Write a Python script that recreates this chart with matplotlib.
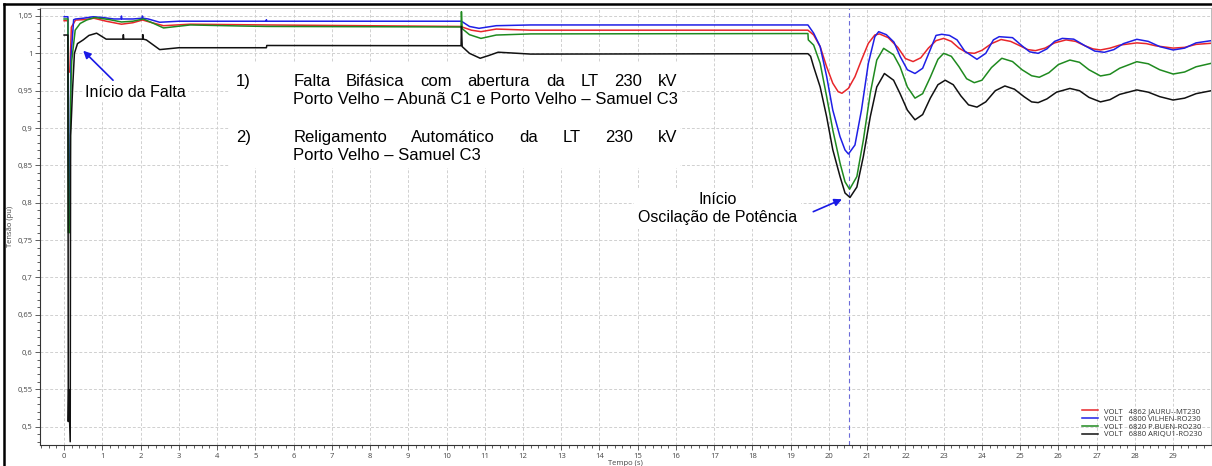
import matplotlib
matplotlib.use("Agg")
import matplotlib.pyplot as plt
from matplotlib.patches import Rectangle
from matplotlib.lines import Line2D
from matplotlib.ticker import MultipleLocator, FuncFormatter

# Tensão nas barras (pu) x tempo (s)
jauru_t = [0.0, 0.10, 0.11, 0.15, 0.19, 0.30, 0.50, 0.78, 1.10, 1.50, 1.80, 2.05, 2.30, 2.60, 3.30, 5.30, 10.38, 10.42, 10.65, 10.90, 11.30, 12.20, 19.45,
           19.60, 19.77, 19.94, 20.10, 20.24, 20.34, 20.51, 20.68, 20.85, 21.03, 21.20, 21.32,
           21.55, 21.80, 22.00, 22.20, 22.40, 22.60, 22.80, 23.00, 23.20, 23.40, 23.60, 23.80, 24.00, 24.25, 24.50, 24.75, 25.00, 25.20, 25.40, 25.65,
           25.90, 26.20, 26.45, 26.70, 26.90, 27.10, 27.35, 27.60, 28.05, 28.30, 28.55, 29.00, 29.30, 29.60, 30.00]
jauru_v = [1.0437, 1.0437, 0.975, 0.975, 1.035, 1.0446, 1.045, 1.047, 1.043, 1.039, 1.041, 1.0446, 1.041, 1.037, 1.039, 1.038, 1.036, 1.035, 1.031, 1.029, 1.0325, 1.031, 1.031,
           1.0246, 1.009, 0.982, 0.960, 0.9487, 0.9465, 0.9532, 0.9687, 0.991, 1.0134, 1.0246, 1.026,
           1.021, 1.008, 0.993, 0.989, 0.994, 1.007, 1.017, 1.020, 1.016, 1.007, 1.001, 1.000, 1.004, 1.013, 1.0185, 1.016, 1.010, 1.005, 1.0036, 1.007,
           1.014, 1.018, 1.016, 1.010, 1.006, 1.0045, 1.007, 1.011, 1.014, 1.013, 1.010, 1.007, 1.008, 1.012, 1.0135]

vilhena_t = [0.0, 0.10, 0.11, 0.14, 0.15, 0.18, 0.25, 0.30, 0.50, 0.76, 1.00, 1.30, 1.49, 1.50, 1.51, 1.80, 2.04, 2.05, 2.06, 2.20,
             2.50, 3.00, 5.28, 5.29, 5.30, 10.38, 10.42, 10.60, 10.85, 11.30, 12.20, 19.45,
             19.60, 19.77, 19.94, 20.10, 20.29, 20.42, 20.51, 20.68, 20.85, 21.03, 21.20, 21.30,
             21.50, 21.70, 21.86, 22.05, 22.25, 22.45, 22.65, 22.80, 22.95, 23.15, 23.35, 23.55, 23.87, 24.10, 24.30, 24.45, 24.80, 25.05, 25.25, 25.47,
             25.70, 25.90, 26.10, 26.40, 26.70, 26.95, 27.20, 27.45, 27.70, 28.05, 28.35, 28.65, 29.00, 29.30, 29.60, 30.00]
vilhena_v = [1.049, 1.049, 0.86, 0.77, 0.86, 0.995, 1.045, 1.046, 1.047, 1.049, 1.048, 1.046, 1.046, 1.050, 1.046, 1.046, 1.047, 1.050, 1.047, 1.046,
             1.0416, 1.043, 1.043, 1.045, 1.043, 1.043, 1.042, 1.036, 1.0335, 1.037, 1.038, 1.038,
             1.027, 1.009, 0.969, 0.924, 0.8884, 0.8706, 0.8652, 0.8773, 0.924, 0.9867, 1.0223, 1.029,
             1.025, 1.015, 0.996, 0.978, 0.973, 0.980, 1.005, 1.024, 1.0255, 1.024, 1.018, 1.003, 0.992, 1.000, 1.018, 1.0223, 1.021, 1.010, 1.002, 1.000,
             1.006, 1.016, 1.020, 1.019, 1.010, 1.003, 1.0014, 1.005, 1.013, 1.0188, 1.016, 1.009, 1.0045, 1.007, 1.014, 1.017]

pbuen_t = [0.0, 0.10, 0.11, 0.15, 0.17, 0.20, 0.29, 0.42, 0.59, 0.80, 1.20, 1.50, 1.80, 2.07, 2.30, 2.60, 3.30, 4.60, 5.30, 10.38,
           10.39, 10.41, 10.60, 10.90, 11.30, 12.20, 19.45, 19.46,
           19.60, 19.77, 19.94, 20.10, 20.29, 20.42, 20.54, 20.73, 20.90, 21.08, 21.25, 21.43,
           21.69, 21.86, 22.05, 22.25, 22.45, 22.65, 22.85, 23.00, 23.20, 23.40, 23.60, 23.80, 24.00, 24.25, 24.52, 24.80, 25.05, 25.30, 25.50, 25.75,
           26.00, 26.30, 26.55, 26.80, 27.10, 27.35, 27.60, 28.05, 28.35, 28.65, 29.00, 29.30, 29.60, 30.00]
pbuen_v = [1.046, 1.046, 0.76, 0.76, 0.94, 0.99, 1.031, 1.040, 1.0446, 1.048, 1.045, 1.042, 1.043, 1.046, 1.041, 1.034, 1.038, 1.0366, 1.036, 1.0353,
           1.0558, 1.033, 1.025, 1.020, 1.0245, 1.026, 1.0265, 1.018,
           1.011, 0.9867, 0.942, 0.8974, 0.853, 0.828, 0.818, 0.835, 0.884, 0.9465, 0.991, 1.0067,
           0.998, 0.982, 0.955, 0.940, 0.946, 0.968, 0.992, 1.000, 0.996, 0.982, 0.966, 0.9607, 0.964, 0.981, 0.9934, 0.989, 0.978, 0.970, 0.968, 0.974,
           0.985, 0.991, 0.988, 0.978, 0.9697, 0.972, 0.980, 0.9888, 0.986, 0.978, 0.9723, 0.975, 0.982, 0.9867]

ariqu_t = [0.0, 0.10, 0.11, 0.12, 0.16, 0.17, 0.18, 0.22, 0.27, 0.35, 0.50, 0.65, 0.85, 1.10, 1.54, 1.55, 1.56, 2.05, 2.06, 2.07,
           2.15, 2.50, 3.00, 5.29, 5.30, 10.38, 10.39, 10.41, 10.60, 10.88, 11.10, 11.35, 11.70, 12.20, 19.45, 19.52,
           19.60, 19.77, 19.94, 20.10, 20.29, 20.42, 20.55, 20.73, 20.90, 21.08, 21.25, 21.45, 21.69, 21.86,
           22.05, 22.25, 22.45, 22.65, 22.85, 23.04, 23.25, 23.45, 23.65, 23.87, 24.10, 24.35, 24.60, 24.85, 25.10, 25.30, 25.47, 25.70, 25.95, 26.30,
           26.55, 26.80, 27.10, 27.35, 27.60, 28.05, 28.35, 28.65, 29.00, 29.30, 29.60, 30.00]
ariqu_v = [1.0245, 1.0245, 0.507, 0.55, 0.48, 0.89, 0.90, 0.95, 1.0, 1.013, 1.018, 1.024, 1.027, 1.019, 1.019, 1.025, 1.019, 1.019, 1.025, 1.019,
           1.018, 1.005, 1.0075, 1.0075, 1.0105, 1.0102, 1.036, 1.009, 1.000, 0.9934, 0.997, 1.0015, 1.0005, 0.999, 0.9995, 0.996,
           0.982, 0.955, 0.915, 0.871, 0.835, 0.813, 0.807, 0.821, 0.862, 0.915, 0.955, 0.973, 0.964, 0.946,
           0.924, 0.911, 0.918, 0.940, 0.958, 0.964, 0.958, 0.943, 0.931, 0.928, 0.935, 0.950, 0.9563, 0.952, 0.942, 0.935, 0.934, 0.939, 0.948, 0.953,
           0.950, 0.941, 0.935, 0.938, 0.945, 0.951, 0.948, 0.942, 0.9375, 0.940, 0.946, 0.950]

series = [
    (jauru_t, jauru_v, "#e8262a", "4862 JAURU--MT230"),
    (vilhena_t, vilhena_v, "#1f1fe6", "6800 VILHEN-RO230"),
    (pbuen_t, pbuen_v, "#1f8a1f", "6820 P.BUEN-RO230"),
    (ariqu_t, ariqu_v, "#111111", "6880 ARIQU1-RO230"),
]
t_oscilacao = 20.53

fig = plt.figure(figsize=(12.12, 4.66), dpi=100)
ax = fig.add_axes([40 / 1212, 21 / 466, 1171 / 1212, 437 / 466])
ax.set_xlim(-0.63, 29.99)
ax.set_ylim(0.4756, 1.0607)

for t, v, cor, nome in series:
    ax.plot(t, v, color=cor, lw=1.1, zorder=3, label="VOLT   " + nome)

ax.axvline(t_oscilacao, color="#6b6bd8", lw=0.8, ls=(0, (4, 3)), zorder=2)

# eixos e grade
ax.xaxis.set_major_locator(MultipleLocator(1))
ax.xaxis.set_minor_locator(MultipleLocator(0.2))
ax.yaxis.set_major_locator(MultipleLocator(0.05))
ax.yaxis.set_minor_locator(MultipleLocator(0.01))
ax.xaxis.set_major_formatter(FuncFormatter(lambda x, _: f"{x:.0f}"))
ax.yaxis.set_major_formatter(
    FuncFormatter(lambda y, _: f"{y:.2f}".rstrip("0").rstrip(".").replace(".", ",")))
ax.grid(True, which="major", color="#d0d0d0", lw=0.7, ls=(0, (3, 2)))
ax.set_axisbelow(True)
ax.tick_params(which="both", direction="out", color="#444444", width=0.6,
               labelsize=5.5, labelcolor="#444444", pad=2)
ax.tick_params(which="major", length=3.5)
ax.tick_params(which="minor", length=2)
for lab in ax.get_xticklabels() + ax.get_yticklabels():
    lab.set_family("Open Sans")
for s in ["left", "bottom"]:
    ax.spines[s].set_color("#333333")
    ax.spines[s].set_linewidth(0.8)
for s in ["top", "right"]:
    ax.spines[s].set_color("#b0b0b0")
    ax.spines[s].set_linewidth(0.6)

ax.set_xlabel("Tempo (s)", fontsize=5.5, family="Open Sans", color="#444444", labelpad=0)
ax.set_ylabel("Tensão (pu)", fontsize=5.5, family="Open Sans", color="#444444", labelpad=2)

leg = ax.legend(loc="lower right", bbox_to_anchor=(0.997, 0.003), frameon=False,
                prop={"family": "Open Sans", "size": 5.5}, handlelength=2.1,
                handletextpad=0.8, labelspacing=0.05, borderpad=0.2)
for txt in leg.get_texts():
    txt.set_color("#333333")

# quadro de eventos
fs = 12
ax.add_patch(Rectangle((4.34, 0.8465), 11.77, 0.1419, facecolor="white",
                       edgecolor="none", zorder=2.5))


def justificado(palavras, x0, x1, y):
    objs = [ax.text(x0, y, p, fontsize=fs, family="Liberation Sans", zorder=6)
            for p in palavras]
    fig.canvas.draw()
    rend = fig.canvas.get_renderer()
    larg = [o.get_window_extent(rend).width for o in objs]
    p0 = ax.transData.transform((x0, y))[0]
    p1 = ax.transData.transform((x1, y))[0]
    gap = (p1 - p0 - sum(larg)) / (len(palavras) - 1)
    inv = ax.transData.inverted()
    pos = p0
    for o, w in zip(objs, larg):
        o.set_x(inv.transform((pos, 0))[0])
        pos += w + gap


ax.text(4.50, 0.9563, "1)", fontsize=fs, family="Liberation Sans", zorder=6)
justificado("Falta Bifásica com abertura da LT 230 kV".split(), 5.99, 16.03, 0.9563)
ax.text(5.99, 0.9318, "Porto Velho – Abunã C1 e Porto Velho – Samuel C3",
        fontsize=fs, family="Liberation Sans", zorder=6)
ax.text(4.50, 0.8817, "2)", fontsize=fs, family="Liberation Sans", zorder=6)
justificado("Religamento Automático da LT 230 kV".split(), 5.99, 16.03, 0.8817)
ax.text(5.99, 0.8572, "Porto Velho – Samuel C3", fontsize=fs,
        family="Liberation Sans", zorder=6)

# indicações
seta = dict(arrowstyle="-|>", color="#1a1ae6", lw=1.2, mutation_scale=11,
            shrinkA=0, shrinkB=0)
ax.text(0.55, 0.9411, "Início da Falta", fontsize=11.5, family="Liberation Sans",
        zorder=6, bbox=dict(facecolor="white", edgecolor="none", pad=1.5))
ax.annotate("", xy=(0.50, 1.0035), xytext=(1.28, 0.964), arrowprops=seta, zorder=6)

ax.text(17.08, 0.7742, "Início\nOscilação de Potência", fontsize=11.5,
        family="Liberation Sans", ha="center", va="baseline", linespacing=1.25,
        multialignment="center", zorder=6,
        bbox=dict(facecolor="white", edgecolor="none", pad=3))
ax.annotate("", xy=(20.34, 0.8046), xytext=(19.59, 0.788), arrowprops=seta, zorder=6)

# moldura da janela
for xs, ys in [([4 / 1212, 4 / 1212], [0.0, 462 / 466]),
               ([4 / 1212, 1.0], [462 / 466, 462 / 466])]:
    fig.add_artist(Line2D(xs, ys, color="black", lw=1.8))

fig.savefig("out.png", dpi=100)
